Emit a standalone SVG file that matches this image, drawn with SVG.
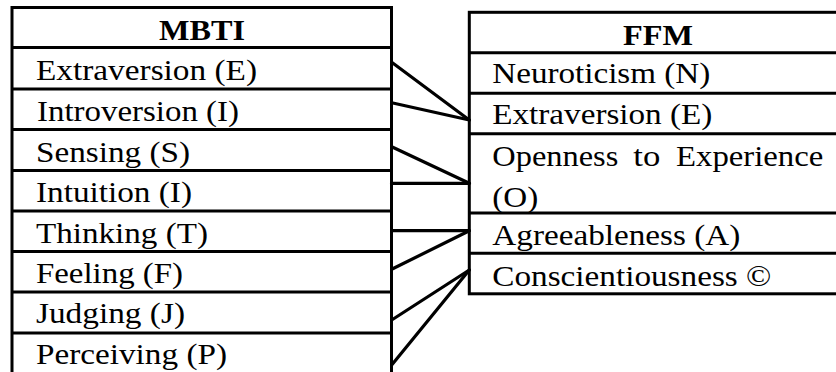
<svg xmlns="http://www.w3.org/2000/svg" width="836" height="372" viewBox="0 0 836 372">
  <style>
    .box { fill: #fff; stroke: #000; stroke-width: 3; }
    .rule { stroke: #000; stroke-width: 3; }
    .link { stroke: #000; stroke-width: 3.2; stroke-linecap: round; fill: none; }
    .head { font-family: "Liberation Serif", "Times New Roman", serif; font-weight: bold; font-size: 30px; fill: #000; }
    .item { font-family: "Liberation Serif", "Times New Roman", serif; font-size: 29px; fill: #000; }
  </style>

  <rect width="836" height="372" fill="#fff"/>

  <!-- Myers-Briggs indicator table -->
  <g id="mbti">
    <rect class="box" x="12" y="7.5" width="379.5" height="380"/>
    <line class="rule" x1="12" y1="47.5" x2="391.5" y2="47.5"/>
    <line class="rule" x1="12" y1="89" x2="391.5" y2="89"/>
    <line class="rule" x1="12" y1="129.5" x2="391.5" y2="129.5"/>
    <line class="rule" x1="12" y1="170.5" x2="391.5" y2="170.5"/>
    <line class="rule" x1="12" y1="211" x2="391.5" y2="211"/>
    <line class="rule" x1="12" y1="251.5" x2="391.5" y2="251.5"/>
    <line class="rule" x1="12" y1="292" x2="391.5" y2="292"/>
    <line class="rule" x1="12" y1="333" x2="391.5" y2="333"/>
    <text class="head" x="159" y="40" textLength="86" lengthAdjust="spacingAndGlyphs">MBTI</text>
    <text class="item" x="36" y="80.3" textLength="221" lengthAdjust="spacingAndGlyphs">Extraversion (E)</text>
    <text class="item" x="37" y="120.5" textLength="202" lengthAdjust="spacingAndGlyphs">Introversion (I)</text>
    <text class="item" x="36" y="161.5" textLength="154" lengthAdjust="spacingAndGlyphs">Sensing (S)</text>
    <text class="item" x="36" y="202" textLength="156" lengthAdjust="spacingAndGlyphs">Intuition (I)</text>
    <text class="item" x="36" y="242.5" textLength="172" lengthAdjust="spacingAndGlyphs">Thinking (T)</text>
    <text class="item" x="36" y="282.5" textLength="147" lengthAdjust="spacingAndGlyphs">Feeling (F)</text>
    <text class="item" x="36" y="323" textLength="149" lengthAdjust="spacingAndGlyphs">Judging (J)</text>
    <text class="item" x="36" y="363.5" textLength="191" lengthAdjust="spacingAndGlyphs">Perceiving (P)</text>
  </g>

  <!-- Five-Factor Model table -->
  <g id="ffm">
    <rect class="box" x="469.3" y="12.3" width="400" height="281.5"/>
    <line class="rule" x1="469.3" y1="52.7" x2="870" y2="52.7"/>
    <line class="rule" x1="469.3" y1="93.3" x2="870" y2="93.3"/>
    <line class="rule" x1="469.3" y1="133.7" x2="870" y2="133.7"/>
    <line class="rule" x1="469.3" y1="213" x2="870" y2="213"/>
    <line class="rule" x1="469.3" y1="253.3" x2="870" y2="253.3"/>
    <text class="head" x="623" y="45" textLength="70" lengthAdjust="spacingAndGlyphs">FFM</text>
    <text class="item" x="492.3" y="83" textLength="218" lengthAdjust="spacingAndGlyphs">Neuroticism (N)</text>
    <text class="item" x="492.3" y="123.5" textLength="220" lengthAdjust="spacingAndGlyphs">Extraversion (E)</text>
    <text class="item" y="166"><tspan x="492.3" textLength="126" lengthAdjust="spacingAndGlyphs">Openness</tspan><tspan x="633.3" textLength="27" lengthAdjust="spacingAndGlyphs">to</tspan><tspan x="676" textLength="147.3" lengthAdjust="spacingAndGlyphs">Experience</tspan></text>
    <text class="item" x="492.3" y="206.5" textLength="46" lengthAdjust="spacingAndGlyphs">(O)</text>
    <text class="item" x="492.3" y="245" textLength="248" lengthAdjust="spacingAndGlyphs">Agreeableness (A)</text>
    <text class="item" x="492.3" y="285.5" textLength="279" lengthAdjust="spacingAndGlyphs">Conscientiousness ©</text>
  </g>

  <!-- Trait correspondences -->
  <g id="connectors">
    <line class="link" x1="391.7" y1="62.3" x2="469.3" y2="120"/>
    <line class="link" x1="391.7" y1="102.7" x2="469.3" y2="120"/>
    <line class="link" x1="391.7" y1="146.7" x2="469.3" y2="183.3"/>
    <line class="link" x1="391.7" y1="183.3" x2="469.3" y2="183.3"/>
    <line class="link" x1="391.7" y1="230.7" x2="469.3" y2="230.7"/>
    <line class="link" x1="391.7" y1="269.3" x2="469.3" y2="230.7"/>
    <line class="link" x1="391.7" y1="320" x2="469.3" y2="270"/>
    <line class="link" x1="391.7" y1="365" x2="469.3" y2="270"/>
  </g>
</svg>
